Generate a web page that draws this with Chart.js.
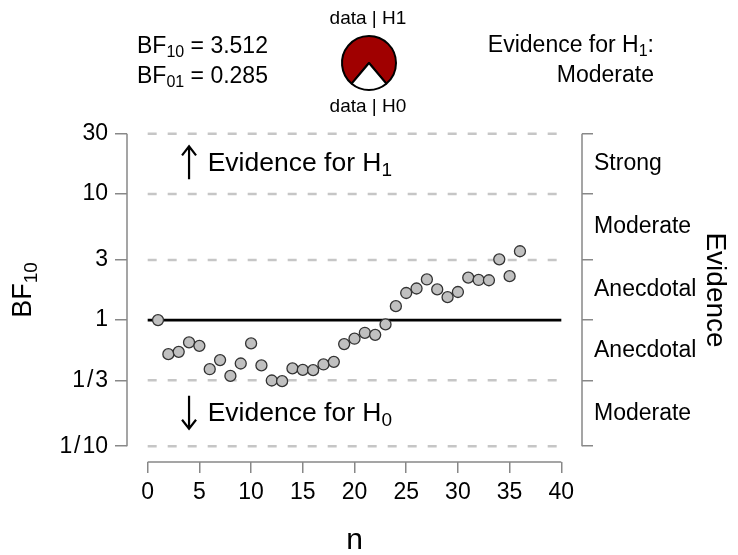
<!DOCTYPE html>
<html><head><meta charset="utf-8">
<script src="https://cdn.jsdelivr.net/npm/chart.js@4.4.1/dist/chart.umd.min.js"></script>
<style>
html,body{margin:0;padding:0;background:#fff;}
#wrap{position:relative;width:738px;height:555px;font-family:"Liberation Sans",Arial,sans-serif;color:#000;overflow:hidden;}
#main{position:absolute;left:0;top:0;}
#pie{position:absolute;left:338px;top:32px;}
.t{position:absolute;white-space:nowrap;font-size:23px;line-height:30px;}
.t sub{font-size:16px;vertical-align:-4px;line-height:0;}
.s{position:absolute;white-space:nowrap;font-size:19px;line-height:24px;text-align:center;width:120px;left:308px;}
</style></head>
<body><div id="wrap">
<canvas id="main" width="738" height="555"></canvas>
<canvas id="pie" width="62" height="62"></canvas>
<div class="t" id="bfText" style="left:137px;top:30px;"></div>
<div class="t" id="evText" style="right:84px;top:29px;text-align:right;"></div>
<div class="s" id="pieTop" style="top:6px;"></div>
<div class="s" id="pieBottom" style="top:94px;"></div>
</div>
<script>
// ---- data ----
const bf10 = 3.512;
const bf01 = 0.285;
const evidenceCategory = 'Moderate';
const pieLabels = ['data | H1', 'data | H0'];
const nValues = [1,2,3,4,5,6,7,8,9,10,11,12,13,14,15,16,17,18,19,20,21,22,23,24,25,26,27,28,29,30,31,32,33,34,35,36];
const bf10Values = [1.00,0.537,0.56,0.665,0.625,0.408,0.482,0.361,0.453,0.653,0.437,0.332,0.328,0.414,0.403,0.401,0.445,0.467,0.645,0.712,0.793,0.764,0.924,1.29,1.64,1.78,2.10,1.75,1.52,1.67,2.17,2.08,2.07,3.03,2.23,3.512];
const xTicks = [0,5,10,15,20,25,30,35,40];
const yTickValues = [1/10, 1/3, 1, 3, 10, 30];
const yTickLabels = ['1\u200A/\u200A10','1\u200A/\u200A3','1','3','10','30'];
const evidenceLabels = ['Moderate','Anecdotal','Anecdotal','Moderate','Strong'];
const dashedLevels = [30, 10, 3, 1/3, 1/10];
const solidLevel = 1;

// ---- header texts ----
document.getElementById('bfText').innerHTML =
  'BF<sub>10</sub> = ' + bf10.toFixed(3) + '<br>BF<sub>01</sub> = ' + bf01.toFixed(3);
document.getElementById('evText').innerHTML = 'Evidence for H<sub>1</sub>:<br>' + evidenceCategory;
document.getElementById('pieTop').textContent = pieLabels[0];
document.getElementById('pieBottom').textContent = pieLabels[1];

const FAM = '"Liberation Sans", Arial, sans-serif';
Chart.defaults.font.family = FAM;
Chart.defaults.color = '#000';

// ---- pie ----
new Chart(document.getElementById('pie'), {
  type: 'pie',
  data: { labels: pieLabels, datasets: [{ data: [bf10, 1], backgroundColor: ['#a00000', '#ffffff'], borderColor: '#000', borderWidth: 2 }] },
  options: { responsive: false, animation: false, events: [],
    rotation: 180 + 180 / (bf10 + 1),
    layout: { padding: 3 },
    plugins: { legend: { display: false }, tooltip: { enabled: false } } }
});

// ---- main chart ----
const AXC = '#888';
const yMin = 0.075, yMax = 40;

const datasets = [];
dashedLevels.forEach(v => datasets.push({
  type: 'line', data: [{x: xTicks[0], y: v}, {x: xTicks[xTicks.length-1], y: v}],
  borderColor: '#c6c6c6', borderWidth: 2.5, borderDash: [9, 11], pointRadius: 0, order: 2
}));
datasets.push({
  type: 'line', data: [{x: xTicks[0], y: solidLevel}, {x: xTicks[xTicks.length-1], y: solidLevel}],
  borderColor: '#000', borderWidth: 2.7, pointRadius: 0, order: 1
});
datasets.push({
  type: 'scatter', data: nValues.map((n, i) => ({x: n, y: bf10Values[i]})),
  pointRadius: 5.5, pointBackgroundColor: '#c0c0c0', pointBorderColor: '#333', pointBorderWidth: 1.3, order: 0
});

const rightTicks = [];
yTickValues.forEach((v, i) => {
  rightTicks.push({value: v, kind: 'b'});
  if (i < yTickValues.length - 1) rightTicks.push({value: Math.sqrt(v * yTickValues[i+1]), kind: 'm', name: evidenceLabels[i]});
});

const deco = {
  id: 'deco',
  afterDraw(chart) {
    const ctx = chart.ctx, xs = chart.scales.x, ys = chart.scales.y, ca = chart.chartArea;
    ctx.save();
    ctx.strokeStyle = AXC; ctx.lineWidth = 1.5;
    const yTop = ys.getPixelForValue(yTickValues[yTickValues.length-1]);
    const yBot = ys.getPixelForValue(yTickValues[0]);
    ctx.beginPath();
    ctx.moveTo(ca.left, yTop); ctx.lineTo(ca.left, yBot);
    ctx.moveTo(ca.right, yTop); ctx.lineTo(ca.right, yBot);
    ctx.moveTo(xs.getPixelForValue(xTicks[0]), ca.bottom); ctx.lineTo(xs.getPixelForValue(xTicks[xTicks.length-1]), ca.bottom);
    ctx.stroke();

    // y-axis title BF10
    ctx.fillStyle = '#000';
    ctx.save();
    ctx.translate(31, (yTop + yBot) / 2);
    ctx.rotate(-Math.PI / 2);
    ctx.textBaseline = 'alphabetic';
    ctx.font = '27px ' + FAM;
    const w1 = ctx.measureText('BF').width;
    ctx.font = '19px ' + FAM;
    const w2 = ctx.measureText('10').width;
    const sx = -(w1 + w2) / 2;
    ctx.font = '27px ' + FAM; ctx.fillText('BF', sx, 0);
    ctx.font = '19px ' + FAM; ctx.fillText('10', sx + w1, 6);
    ctx.restore();

    // evidence annotations
    const ax = xs.getPixelForValue(4), tx = xs.getPixelForValue(5.8);
    const ann = [
      {y: ys.getPixelForValue(Math.sqrt(yTickValues[4] * yTickValues[5])), sub: '1', up: true},
      {y: ys.getPixelForValue(Math.sqrt(yTickValues[0] * yTickValues[1])), sub: '0', up: false}
    ];
    ann.forEach(a => {
      const cy = a.y - 1;
      const top = cy - 16.5, bot = cy + 16.5;
      ctx.strokeStyle = '#000'; ctx.lineWidth = 2.2;
      ctx.beginPath();
      ctx.moveTo(ax, top); ctx.lineTo(ax, bot);
      if (a.up) { ctx.moveTo(ax - 7, top + 9); ctx.lineTo(ax, top); ctx.lineTo(ax + 7, top + 9); }
      else { ctx.moveTo(ax - 7, bot - 9); ctx.lineTo(ax, bot); ctx.lineTo(ax + 7, bot - 9); }
      ctx.stroke();
      ctx.textBaseline = 'alphabetic'; ctx.textAlign = 'left';
      ctx.font = '26.5px ' + FAM;
      const main = 'Evidence for H';
      ctx.fillText(main, tx, a.y + 7.5);
      const mw = ctx.measureText(main).width;
      ctx.font = '19px ' + FAM;
      ctx.fillText(a.sub, tx + mw, a.y + 12.5);
    });
    ctx.restore();
  }
};

new Chart(document.getElementById('main'), {
  type: 'scatter',
  data: { datasets },
  options: {
    responsive: false, animation: false, events: [],
    layout: { padding: { top: 118, left: 0, right: 0, bottom: 0 } },
    plugins: { legend: { display: false }, tooltip: { enabled: false } },
    scales: {
      x: {
        type: 'linear', min: -2, max: 42,
        afterBuildTicks: s => { s.ticks = xTicks.map(v => ({value: v})); },
        afterFit: s => { s.height = 93; },
        grid: { display: true, drawOnChartArea: false, drawTicks: true, tickLength: 11, color: AXC, lineWidth: 1.5 },
        border: { display: false },
        ticks: { font: { size: 23 }, color: '#000', padding: 6, maxRotation: 0, autoSkip: false, callback: v => String(v) },
        title: { display: true, text: 'n', font: { size: 30 }, color: '#000', padding: { top: 0, bottom: -4 } }
      },
      y: {
        type: 'logarithmic', position: 'left', min: yMin, max: yMax,
        afterBuildTicks: s => { s.ticks = yTickValues.map(v => ({value: v})); },
        afterFit: s => { s.width = 127; },
        grid: { display: true, drawOnChartArea: false, drawTicks: true, tickLength: 12, color: AXC, lineWidth: 1.5 },
        border: { display: false },
        ticks: { font: { size: 23 }, color: '#000', padding: 7, autoSkip: false, callback: (v, i) => yTickLabels[i] }
      },
      y2: {
        type: 'logarithmic', position: 'right', min: yMin, max: yMax,
        afterBuildTicks: s => { s.ticks = rightTicks.map(t => Object.assign({}, t)); },
        afterFit: s => { s.width = 156; },
        grid: { display: true, drawOnChartArea: false, drawTicks: true, tickLength: 11, lineWidth: 1.5,
                color: c => (c.tick && c.tick.kind === 'm') ? 'rgba(0,0,0,0)' : AXC },
        border: { display: false },
        ticks: { font: { size: 23 }, color: '#000', padding: 1, autoSkip: false,
                 callback: (v, i) => rightTicks[i].kind === 'm' ? rightTicks[i].name : '' },
        title: { display: true, text: 'Evidence', font: { size: 28 }, color: '#000', padding: { top: 6, bottom: 0 } }
      }
    }
  },
  plugins: [deco]
});
</script>
</body></html>
